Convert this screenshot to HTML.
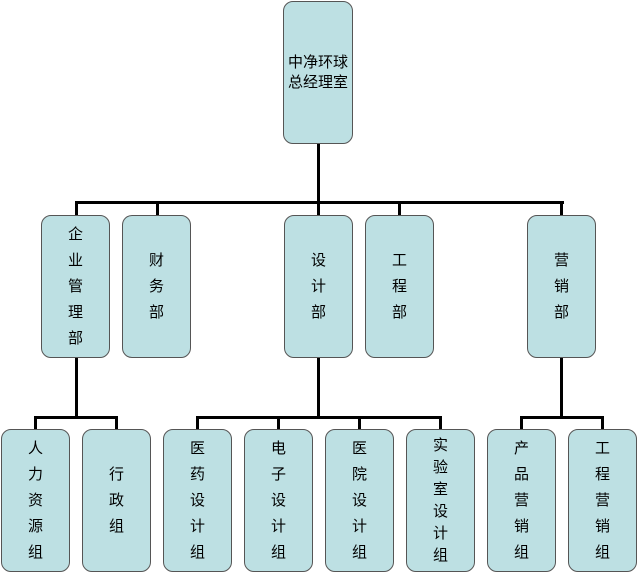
<!DOCTYPE html>
<html><head><meta charset="utf-8"><style>
body{margin:0;width:637px;height:573px;background:#fff;position:relative;overflow:hidden;font-family:"Liberation Sans","Noto Sans CJK SC","WenQuanYi Zen Hei",sans-serif;}
.b{position:absolute;box-sizing:border-box;background:#bde0e3;border:1.5px solid #555;border-radius:10px;display:flex;align-items:center;justify-content:center;text-align:center;font-size:15px;line-height:26px;color:#000;}
.l{position:absolute;background:#000;}
</style></head><body>
<div class="l" style="left:317px;top:143px;width:3px;height:61px"></div>
<div class="l" style="left:75px;top:201px;width:489px;height:3px"></div>
<div class="l" style="left:75px;top:201px;width:3px;height:15px"></div>
<div class="l" style="left:156px;top:201px;width:3px;height:15px"></div>
<div class="l" style="left:317px;top:201px;width:3px;height:15px"></div>
<div class="l" style="left:398px;top:201px;width:3px;height:15px"></div>
<div class="l" style="left:560px;top:201px;width:3px;height:15px"></div>

<div class="l" style="left:75px;top:357px;width:3px;height:61px"></div>
<div class="l" style="left:34px;top:416px;width:84px;height:3px"></div>
<div class="l" style="left:34px;top:416px;width:3px;height:14px"></div>
<div class="l" style="left:115px;top:416px;width:3px;height:14px"></div>

<div class="l" style="left:317px;top:357px;width:3px;height:61px"></div>
<div class="l" style="left:196px;top:416px;width:246px;height:3px"></div>
<div class="l" style="left:196px;top:416px;width:3px;height:14px"></div>
<div class="l" style="left:277px;top:416px;width:3px;height:14px"></div>
<div class="l" style="left:358px;top:416px;width:3px;height:14px"></div>
<div class="l" style="left:439px;top:416px;width:3px;height:14px"></div>

<div class="l" style="left:560px;top:357px;width:3px;height:61px"></div>
<div class="l" style="left:520px;top:416px;width:84px;height:3px"></div>
<div class="l" style="left:520px;top:416px;width:3px;height:14px"></div>
<div class="l" style="left:601px;top:416px;width:3px;height:14px"></div>

<div class="b" style="left:283px;top:1px;width:70px;height:143px;line-height:20px">中净环球<br>总经理室</div>

<div class="b" style="left:41px;top:215px;width:69px;height:143px">企<br>业<br>管<br>理<br>部</div>
<div class="b" style="left:122px;top:215px;width:69px;height:143px">财<br>务<br>部</div>
<div class="b" style="left:284px;top:215px;width:69px;height:143px">设<br>计<br>部</div>
<div class="b" style="left:365px;top:215px;width:69px;height:143px">工<br>程<br>部</div>
<div class="b" style="left:527px;top:215px;width:69px;height:143px">营<br>销<br>部</div>

<div class="b" style="left:1px;top:429px;width:69px;height:143px">人<br>力<br>资<br>源<br>组</div>
<div class="b" style="left:82px;top:429px;width:69px;height:143px">行<br>政<br>组</div>
<div class="b" style="left:163px;top:429px;width:69px;height:143px">医<br>药<br>设<br>计<br>组</div>
<div class="b" style="left:244px;top:429px;width:69px;height:143px">电<br>子<br>设<br>计<br>组</div>
<div class="b" style="left:325px;top:429px;width:69px;height:143px">医<br>院<br>设<br>计<br>组</div>
<div class="b" style="left:406px;top:429px;width:69px;height:143px;line-height:22px">实<br>验<br>室<br>设<br>计<br>组</div>
<div class="b" style="left:487px;top:429px;width:69px;height:143px">产<br>品<br>营<br>销<br>组</div>
<div class="b" style="left:568px;top:429px;width:69px;height:143px">工<br>程<br>营<br>销<br>组</div>
</body></html>
